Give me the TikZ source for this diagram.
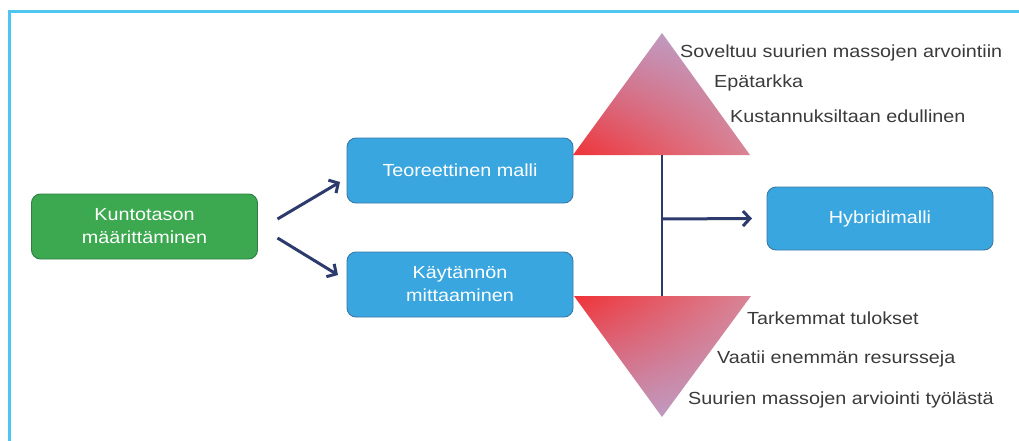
\documentclass[tikz,border=0pt]{standalone}
\usepackage{fontspec}
\setmainfont{Liberation Sans}[FakeStretch=1.13]
\usetikzlibrary{arrows.meta,calc,shadings}

\definecolor{framecol}{HTML}{4FC6F2}
\definecolor{greenfill}{HTML}{3CA84F}
\definecolor{greenline}{HTML}{2F7F45}
\definecolor{bluefill}{HTML}{3AA6DF}
\definecolor{blueline}{HTML}{3A78A8}
\definecolor{navy}{HTML}{2C3B6C}
\definecolor{notetext}{HTML}{3A3A3A}
\definecolor{tred}{HTML}{EF3338}
\definecolor{tlav}{HTML}{B9A5CE}
\definecolor{tpink}{HTML}{D98496}
\definecolor{tmauve}{HTML}{C690B4}

\begin{document}
\begin{tikzpicture}[x=1pt,y=-1pt,
  box/.style={rounded corners=9pt, line width=0.9pt, outer sep=0pt,
    minimum width=226pt, minimum height=65pt, text=white, align=center,
    font=\fontsize{17.5}{23}\selectfont},
  greenbox/.style={box, fill=greenfill, draw=greenline},
  bluebox/.style={box, fill=bluefill, draw=blueline},
  arr/.style={draw=navy, line width=3pt,
    -{Straight Barb[length=7pt,width=15pt]}},
  link/.style={draw=navy, line width=2.8pt},
  note/.style={anchor=base west, inner sep=0pt, text=notetext,
    font=\fontsize{17.5}{21}\selectfont}]

\useasboundingbox (0,0) rectangle (1019,441);

% frame (top and left edges)
\draw[framecol, line width=3pt] (9,441) -- (9,12) -- (1019,12);

% boxes
\node[greenbox] (g) at (144.5,226.5) {Kuntotason\\määrittäminen};
\node[bluebox]  (t) at (460,170.5) {Teoreettinen malli};
\node[bluebox]  (k) at (460,284.5) {Käytännön\\mittaaminen};
\node[bluebox, minimum height=63pt] (h) at (880,218.5) {Hybridimalli};

% arrows from the starting box
\draw[arr] ($(g.east)+(20,-7.5)$) -- ($(t.west)+(-7,11.5)$);
\draw[arr] ($(g.east)+(20,11.5)$) -- ($(k.west)+(-9,-9.5)$);

% triangles
\coordinate (ua) at (662,33);
\coordinate (ul) at (573,155);
\coordinate (ur) at (750,155);
\coordinate (tb) at (662,155);
\shade[lower left=tred, upper right=tlav, upper left=tmauve, lower right=tpink]
  (ul) -- (ua) -- (ur) -- cycle;

\coordinate (ll) at (574,296);
\coordinate (lr) at (751,296);
\coordinate (la) at (662,417);
\coordinate (bt) at (662,296);
\shade[upper left=tred, upper right=tpink, lower left=tmauve, lower right=tlav]
  (ll) -- (lr) -- (la) -- cycle;

% joining line and arrow to the hybrid model
\coordinate (j) at (662,219);
\draw[link] (tb) -- (bt);
\draw[arr] (j) -- ($(h.west)+(-15,0)$);

% notes beside the triangles
\node[note] (n1) at (680,58) {Soveltuu suurien massojen arvointiin};
\node[note] (n2) at (714,88) {Epätarkka};
\node[note] (n3) at (730,123) {Kustannuksiltaan edullinen};
\node[note] (n4) at (747,324) {Tarkemmat tulokset};
\node[note] (n5) at (717,363) {Vaatii enemmän resursseja};
\node[note] (n6) at (688,404) {Suurien massojen arviointi työlästä};
\end{tikzpicture}
\end{document}
